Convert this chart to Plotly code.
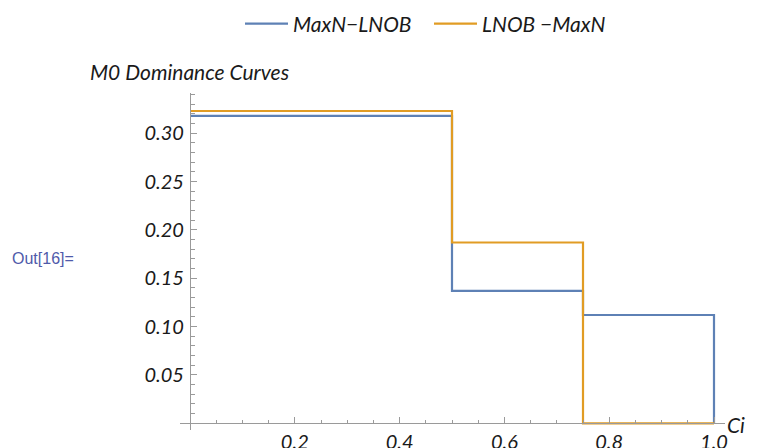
import plotly.graph_objects as go

# Data
ci_breaks = [0.0, 0.5, 0.75, 1.0]
maxn_lnob = [0.318, 0.137, 0.112, 0.0]
lnob_maxn = [0.323, 0.187, 0.0, 0.0]
x_tick_vals = [0.2, 0.4, 0.6, 0.8, 1.0]
x_tick_text = ["0.2", "0.4", "0.6", "0.8", "1.0"]
y_tick_vals = [0.05, 0.10, 0.15, 0.20, 0.25, 0.30]
y_tick_text = ["0.05", "0.10", "0.15", "0.20", "0.25", "0.30"]

BLUE = "#5E81B5"
ORANGE = "#E19C24"
AXIS = "#9a9a9a"
FONT = "Lato"

x_range = [-0.0191, 1.021]
y_range = [-0.0069, 0.3416]

fig = go.Figure()
fig.add_trace(go.Scatter(x=ci_breaks, y=maxn_lnob, mode="lines", line_shape="hv",
                         line=dict(color=BLUE, width=2.2), name="MaxN\u2212LNOB"))
fig.add_trace(go.Scatter(x=ci_breaks, y=lnob_maxn, mode="lines", line_shape="hv",
                         line=dict(color=ORANGE, width=2.2), name="LNOB \u2212MaxN"))

x_pos = (0 - y_range[0]) / (y_range[1] - y_range[0])
y_pos = (0 - x_range[0]) / (x_range[1] - x_range[0])

tickfont = dict(family=FONT, size=20, color="#1a1a1a", style="italic")
textfont = dict(family=FONT, size=21, color="#1a1a1a", style="italic")

fig.update_layout(
    width=760, height=448,
    margin=dict(l=172, r=43, t=85, b=26, autoexpand=False),
    paper_bgcolor="white", plot_bgcolor="white",
    showlegend=True,
    legend=dict(orientation="h", x=(240 - 180) / 545, xanchor="left", y=(430 - 24) / 337, yanchor="middle",
                font=textfont, itemwidth=43, entrywidth=131, bgcolor="rgba(0,0,0,0)"),
    xaxis=dict(range=x_range, anchor="free", position=x_pos, showgrid=False, zeroline=False,
               showline=True, linecolor=AXIS, linewidth=1.2, automargin=False,
               tickmode="array", tickvals=x_tick_vals, ticktext=x_tick_text,
               ticks="inside", ticklen=6, tickcolor=AXIS, tickwidth=1.2,
               tickfont=tickfont, ticklabelstandoff=1,
               minor=dict(dtick=0.05, tick0=0, ticks="inside", ticklen=3.5, tickcolor=AXIS, tickwidth=1, showgrid=False)),
    yaxis=dict(range=y_range, anchor="free", position=y_pos, showgrid=False, zeroline=False,
               showline=True, linecolor=AXIS, linewidth=1.2, automargin=False,
               tickmode="array", tickvals=y_tick_vals, ticktext=y_tick_text,
               ticks="inside", ticklen=6, tickcolor=AXIS, tickwidth=1.2,
               tickfont=tickfont, ticklabelstandoff=2,
               minor=dict(dtick=0.01, tick0=0, ticks="inside", ticklen=3.5, tickcolor=AXIS, tickwidth=1, showgrid=False)),
)

fig.add_annotation(text="M0 Dominance Curves", xref="paper", yref="paper",
                   x=(88 - 180) / 545, y=(430 - 72) / 337, xanchor="left", yanchor="middle",
                   showarrow=False, font=textfont)
fig.add_annotation(text="Ci", xref="paper", yref="paper", x=(725 - 180) / 545, y=(430 - 424) / 337,
                   xanchor="left", yanchor="middle", showarrow=False, font=textfont)
fig.add_annotation(text="Out[16]=", xref="paper", yref="paper",
                   x=(10 - 180) / 545, y=(430 - 258) / 337, xanchor="left", yanchor="middle",
                   showarrow=False, font=dict(family="Liberation Sans", size=16, color="#4F5AAA"))

fig.write_html("out.html")
